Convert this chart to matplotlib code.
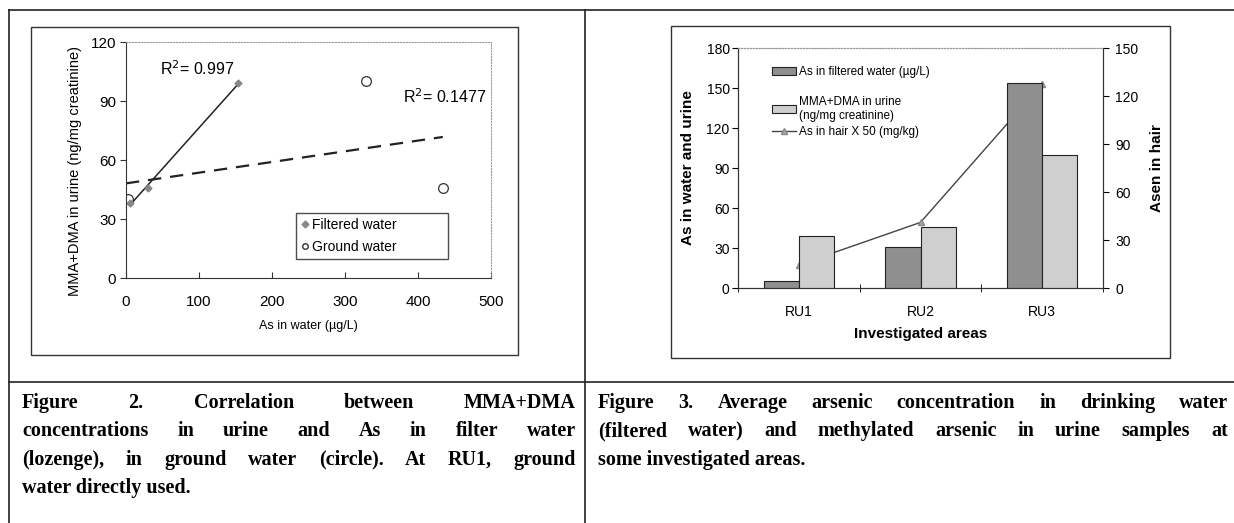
import numpy as np
import matplotlib.pyplot as plt
from matplotlib.patches import Rectangle, Patch
from matplotlib.lines import Line2D

W, H = 1234, 523

# Figure 2: scatter data
filtered_x = [5, 30, 154]
filtered_y = [38, 46, 99]
ground_x = [3, 329, 434]
ground_y = [40, 100, 46]
r2_filtered = "0.997"
r2_ground = "0.1477"

# Figure 3: bars + line
areas = ["RU1", "RU2", "RU3"]
as_filtered = [5, 31, 154]
mma_dma = [39, 46, 100]
as_hair_x50 = [14.5, 41, 127.5]

caption2 = ["Figure 2. Correlation between MMA+DMA",
            "concentrations in urine and As in filter water",
            "(lozenge), in ground water (circle). At RU1, ground",
            "water directly used."]
caption3 = ["Figure 3. Average arsenic concentration in drinking water",
            "(filtered water) and methylated arsenic in urine samples at",
            "some investigated areas."]

plt.rcParams['font.family'] = ['Liberation Sans', 'DejaVu Sans']


def box(l, t, r, b):
    return [l / W, 1 - b / H, (r - l) / W, (b - t) / H]


def fline(x0, y0, x1, y1, lw=1.2, color='#222'):
    fig.add_artist(Line2D([x0 / W, x1 / W], [1 - y0 / H, 1 - y1 / H],
                          transform=fig.transFigure, color=color, lw=lw))


def frame(l, t, r, b):
    fig.add_artist(Rectangle((l / W, 1 - b / H), (r - l) / W, (b - t) / H,
                             transform=fig.transFigure, fill=False,
                             ec='#333', lw=1.0))


fig = plt.figure(figsize=(W / 100, H / 100), dpi=100)

# table lines
fline(9, 10, W, 10)
fline(9, 382, W, 382)
fline(9, 10, 9, H)
fline(585, 10, 585, H)

# chart frames
frame(31, 27, 518, 355)
frame(671, 26, 1170, 358)

# ---- Figure 2 ----
ax1 = fig.add_axes(box(126, 42, 491, 278))
ax1.set_xlim(0, 500)
ax1.set_ylim(0, 120)
ax1.set_xticks(range(0, 501, 100))
ax1.set_yticks(range(0, 121, 30))
ax1.tick_params(axis='both', labelsize=11, length=4, color='#333')
ax1.tick_params(axis='x', direction='in', pad=12)
ax1.tick_params(axis='y', direction='out', pad=3)
for s in ['top', 'right']:
    ax1.spines[s].set_linestyle(':')
    ax1.spines[s].set_color('#999')
for s in ['left', 'bottom']:
    ax1.spines[s].set_color('#333')

pf = np.polyfit(filtered_x, filtered_y, 1)
xf = np.array([min(filtered_x), max(filtered_x)])
ax1.plot(xf, np.polyval(pf, xf), color='#222', lw=1.1)
pg = np.polyfit(ground_x, ground_y, 1)
xg = np.array([0, max(ground_x)])
ax1.plot(xg, np.polyval(pg, xg), color='#222', lw=1.6, ls=(0, (6, 4)))

ax1.plot(ground_x, ground_y, 'o', mfc='none', mec='#333', ms=7, mew=0.9)
ax1.plot(filtered_x, filtered_y, 'D', color='#888', ms=3.5)

ax1.text(47, 103, "R$^2$= " + r2_filtered, fontsize=11.5)
ax1.text(380, 89, "R$^2$= " + r2_ground, fontsize=11.5)
ax1.set_ylabel("MMA+DMA in urine (ng/mg creatinine)", fontsize=10.5)
ax1.yaxis.set_label_coords(-0.12, 0.453)
ax1.set_xlabel("As in water (µg/L)", fontsize=9, labelpad=8)

h1 = [Line2D([], [], ls='none', marker='D', color='#888', ms=3.5),
      Line2D([], [], ls='none', marker='o', mfc='none', mec='#333', ms=4)]
leg1 = ax1.legend(h1, ["Filtered water", "Ground water"], loc='center',
                  bbox_to_anchor=(0.447, 0.085, 0.455, 0.186), mode='expand',
                  fontsize=10, fancybox=False, edgecolor='#222',
                  handlelength=0.6, handletextpad=0.2, labelspacing=0.6,
                  borderpad=0.35)
leg1.get_frame().set_linewidth(1.0)

# ---- Figure 3 ----
ax2 = fig.add_axes(box(738, 48, 1103, 288))
axh = ax2.twinx()
ax2.set_zorder(axh.get_zorder() + 1)
ax2.patch.set_visible(False)

x = np.arange(len(areas))
bw = 0.29
ax2.bar(x - bw / 2, as_filtered, bw, color='#8f8f8f', edgecolor='#222', lw=0.8)
ax2.bar(x + bw / 2, mma_dma, bw, color='#cfcfcf', edgecolor='#222', lw=0.8)
axh.plot(x, as_hair_x50, color='#444', lw=1.0, marker='^', ms=4,
         mfc='#aaa', mec='#888')

ax2.set_xlim(-0.5, 2.5)
ax2.set_ylim(0, 180)
axh.set_ylim(0, 150)
ax2.set_yticks(range(0, 181, 30))
axh.set_yticks(range(0, 151, 30))
ax2.set_xticks(x)
ax2.set_xticklabels(areas)
ax2.set_xticks([-0.5, 0.5, 1.5, 2.5], minor=True)
ax2.tick_params(axis='x', which='major', length=0, pad=12, labelsize=10)
ax2.tick_params(axis='x', which='minor', length=6, direction='inout')
ax2.tick_params(axis='y', labelsize=10, length=4, pad=2)
axh.tick_params(axis='y', labelsize=10, length=4, pad=5)
for a in (ax2, axh):
    a.spines['top'].set_linestyle(':')
    a.spines['top'].set_color('#999')
    for s in ['left', 'right', 'bottom']:
        a.spines[s].set_color('#333')

ax2.set_ylabel("As in water and urine", fontsize=11, fontweight='bold', labelpad=8)
axh.set_ylabel("Asen in hair", fontsize=11, fontweight='bold', labelpad=8)
ax2.set_xlabel("Investigated areas", fontsize=11, fontweight='bold', labelpad=6)

h_water = Patch(facecolor='#8f8f8f', edgecolor='#222', lw=0.8)
h_urine = Patch(facecolor='#cfcfcf', edgecolor='#222', lw=0.8)
h_hair = Line2D([], [], color='#444', lw=1.0, marker='^', ms=4, mfc='#aaa', mec='#888')
leg_kw = dict(loc='upper left', frameon=False, fontsize=8.5, handlelength=2.0,
              handleheight=0.6, handletextpad=0.3, borderpad=0, borderaxespad=0)
leg_a = ax2.legend([h_water], ["As in filtered water (µg/L)"],
                   bbox_to_anchor=(0.093, 0.925), **leg_kw)
ax2.add_artist(leg_a)
ax2.legend([h_urine, h_hair],
           ["MMA+DMA in urine\n(ng/mg creatinine)", "As in hair X 50 (mg/kg)"],
           bbox_to_anchor=(0.093, 0.80), labelspacing=0.35, **leg_kw)

# ---- captions (justified) ----
renderer = fig.canvas.get_renderer()
cap_font = dict(family='Liberation Serif', fontweight='bold', fontsize=14.5)


def justified(lines, x0, x1, y0, dy):
    for i, line in enumerate(lines):
        y = 1 - (y0 + i * dy) / H
        words = line.split()
        if i == len(lines) - 1 or len(words) == 1:
            fig.text(x0 / W, y, line, ha='left', va='baseline', **cap_font)
            continue
        texts = [fig.text(0, y, w, ha='left', va='baseline', **cap_font) for w in words]
        widths = [t.get_window_extent(renderer).width for t in texts]
        gap = (x1 - x0 - sum(widths)) / (len(words) - 1)
        pos = x0
        for t, wd in zip(texts, widths):
            t.set_x(pos / W)
            pos += wd + gap


justified(caption2, 22, 576, 408, 28.3)
justified(caption3, 598, 1228, 408, 28.3)

fig.savefig("out.png", dpi=100)
